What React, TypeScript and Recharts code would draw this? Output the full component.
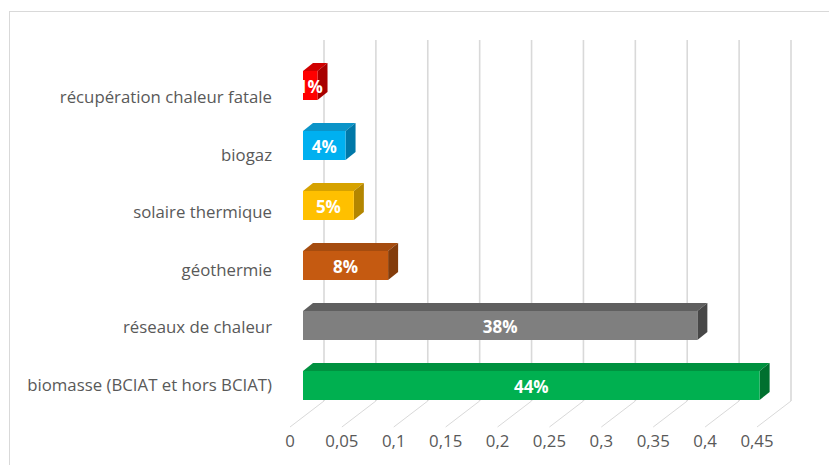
import { Bar, BarChart, CartesianGrid, XAxis, YAxis } from "recharts";

const CATEGORIES = [
  "récupération chaleur fatale",
  "biogaz",
  "solaire thermique",
  "géothermie",
  "réseaux de chaleur",
  "biomasse (BCIAT et hors BCIAT)",
];
const VALUES = [0.014, 0.041, 0.049, 0.082, 0.38, 0.44];
const VALUE_LABELS = ["1%", "4%", "5%", "8%", "38%", "44%"];
const X_TICKS = [0, 0.05, 0.1, 0.15, 0.2, 0.25, 0.3, 0.35, 0.4, 0.45];

const FRONT = ["#ff0000", "#00b0f0", "#ffc000", "#c55a11", "#7f7f7f", "#00b050"];
const TOP = ["#d00000", "#0b94c8", "#d6a200", "#a54c0f", "#5f5f5f", "#00913f"];
const SIDE = ["#a80000", "#0078a8", "#b38600", "#833c0b", "#474747", "#00702f"];

const FONT = "'Open Sans', sans-serif";
const TEXT_GREY = "#595959";
const GRID = "#d9d9d9";

// 3D depth of the chart
const BAR_SHIFT = 13; // bars sit a bit behind the floor front edge
const DX = 10;
const DY = 8;
const WALL_DX = 34;

const data = CATEGORIES.map((name, i) => ({ name, value: VALUES[i], label: VALUE_LABELS[i], i }));

function Box3D(props: any) {
  const { x, y, width, height, payload } = props;
  const i = payload.i;
  const fx = x + BAR_SHIFT;
  const w = Math.max(width, 0);
  return (
    <g>
      <polygon
        points={`${fx},${y} ${fx + DX},${y - DY} ${fx + w + DX},${y - DY} ${fx + w},${y}`}
        fill={TOP[i]}
      />
      <polygon
        points={`${fx + w},${y} ${fx + w + DX},${y - DY} ${fx + w + DX},${y + height - DY} ${fx + w},${y + height}`}
        fill={SIDE[i]}
      />
      <rect x={fx} y={y} width={w} height={height} fill={FRONT[i]} />
      <text
        x={fx + w / 2}
        y={y + height / 2 + 1}
        dy="0.36em"
        textAnchor="middle"
        fill="#ffffff"
        fontFamily={FONT}
        fontWeight={700}
        fontSize={17}
      >
        {payload.label}
      </text>
    </g>
  );
}

function WallLine(p: any) {
  const { x1, y1, y2 } = p;
  return (
    <g key={p.key}>
      <line x1={x1 + WALL_DX} y1={y1 - 15} x2={x1 + WALL_DX} y2={y2 - 14} stroke={GRID} strokeWidth={1.6} />
      <line x1={x1} y1={y2 + 12} x2={x1 + WALL_DX} y2={y2 - 14} stroke={GRID} strokeWidth={1} />
    </g>
  );
}

function XTick(p: any) {
  const v = p.payload.value;
  return (
    <text x={p.x} y={p.y + 24} textAnchor="middle" fill={TEXT_GREY} fontFamily={FONT} fontSize={16.8}>
      {String(v).replace(".", ",")}
    </text>
  );
}

function YTick(p: any) {
  // labels converge slightly toward the bottom row (perspective)
  const y = p.y + (385 - p.y) * 0.04;
  return (
    <text x={272} y={y} dy="0.36em" textAnchor="end" fill={TEXT_GREY} fontFamily={FONT} fontSize={16.8}>
      {p.payload.value}
    </text>
  );
}

export default function App() {
  return (
    <div
      style={{
        position: "absolute",
        left: 0,
        top: 0,
        width: 829,
        height: 465,
        overflow: "hidden",
        background: "#ffffff",
      }}
    >
      <div
        style={{
          position: "absolute",
          left: 9,
          top: 11,
          width: 900,
          height: 500,
          border: "1px solid #d9d9d9",
        }}
      />
      <div style={{ position: "absolute", left: 0, top: 0 }}>
        <BarChart
          width={829}
          height={465}
          data={data}
          layout="vertical"
          margin={{ top: 55, right: 72, bottom: 20, left: 10 }}
        >
          <CartesianGrid horizontal={false} vertical={WallLine} />
          <XAxis
            type="number"
            domain={[0, 0.45]}
            ticks={X_TICKS}
            axisLine={false}
            tickLine={false}
            height={30}
            tick={XTick}
            interval={0}
          />
          <YAxis
            type="category"
            dataKey="name"
            width={280}
            axisLine={false}
            tickLine={false}
            tick={YTick}
            interval={0}
          />
          <Bar dataKey="value" barSize={29} shape={Box3D} isAnimationActive={false} />
        </BarChart>
      </div>
    </div>
  );
}
